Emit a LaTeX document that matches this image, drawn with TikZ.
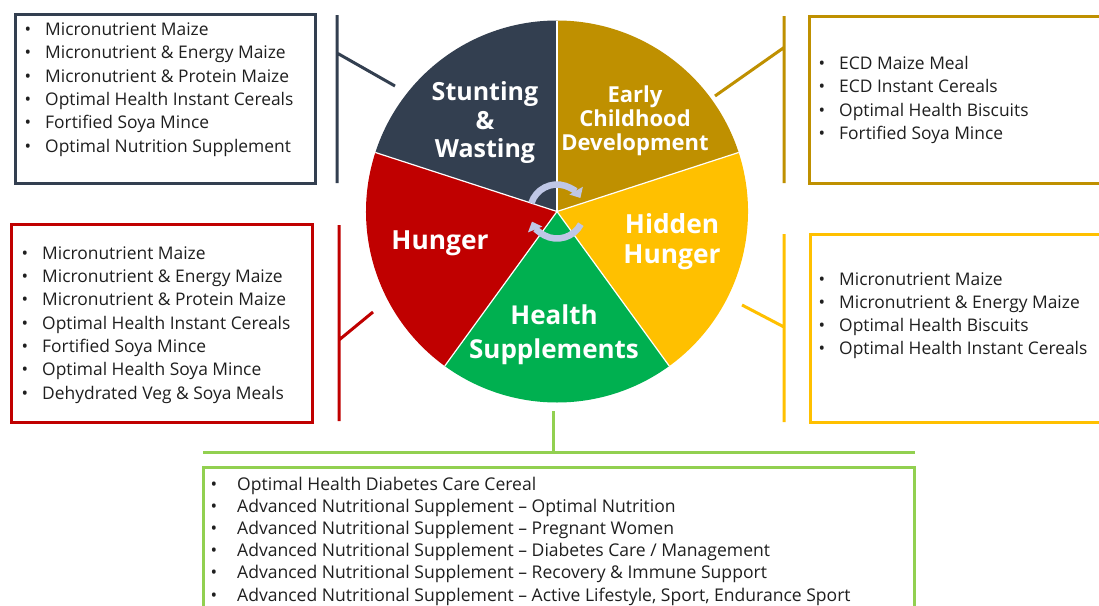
\documentclass[tikz,border=0pt]{standalone}
\usepackage{fontspec}
\setmainfont{Open Sans}
\usetikzlibrary{arrows.meta}
\definecolor{navy}{HTML}{333F50}
\definecolor{gold}{HTML}{BF9000}
\definecolor{amber}{HTML}{FFC000}
\definecolor{hgreen}{HTML}{00B050}
\definecolor{hred}{HTML}{C00000}
\definecolor{lgreen}{HTML}{92D050}
\definecolor{cyc}{HTML}{BFC7E6}
\begin{document}
\begin{tikzpicture}[x=1pt,y=-1pt,
  bx/.style={draw, line width=3pt, inner sep=0, fill=white},
  conn/.style={line width=3pt},
  item/.style={anchor=base west, inner sep=0, font=\fontsize{17.4}{20}\selectfont, text=black!88},
  lbl/.style={text=white, align=center, inner sep=0},
  sep/.style={white, line width=1.2pt}]
\useasboundingbox (0,0) rectangle (1099,605);
\clip (0,0) rectangle (1099,605);
\fill[white] (0,0) rectangle (1099,605);

% ---------- pie ----------
\begin{scope}[shift={(557,211.5)}, yscale=-1]
  \coordinate (pc) at (0,0);
  \fill[navy]   (pc) -- (90:191)  arc[start angle=90,  end angle=162, radius=191] -- cycle;
  \fill[hred]   (pc) -- (162:191) arc[start angle=162, end angle=234, radius=191] -- cycle;
  \fill[hgreen] (pc) -- (234:191) arc[start angle=234, end angle=306, radius=191] -- cycle;
  \fill[amber]  (pc) -- (306:191) arc[start angle=306, end angle=378, radius=191] -- cycle;
  \fill[gold]   (pc) -- (18:191)  arc[start angle=18,  end angle=90,  radius=191] -- cycle;
  \foreach \a in {90,162,234,306,18} \draw[sep] (pc) -- (\a:191);
  % cycle arrows
  \draw[cyc, line width=6.5pt, -{Triangle[width=15pt,length=8.5pt]}]
    (162:27) arc[start angle=162, end angle=30, radius=27];
  \draw[cyc, line width=6.5pt, -{Triangle[width=15pt,length=8.5pt]}]
    (-28:27) arc[start angle=-28, end angle=-158, radius=27];
\end{scope}

% ---------- pie labels ----------
\node[lbl, font=\bfseries\fontsize{25}{28.5}\selectfont] (lstunt) at (485,123) {Stunting\\\&\\Wasting};
\node[lbl, font=\bfseries\fontsize{22}{24}\selectfont] (lecd) at (635,121) {Early\\Childhood\\Development};
\node[lbl, font=\bfseries\fontsize{26.3}{30}\selectfont] (lhid) at (672,242) {Hidden\\Hunger};
\node[lbl, font=\bfseries\fontsize{26.3}{30}\selectfont] (lhun) at (440,243) {Hunger};
\node[lbl, font=\bfseries\fontsize{26}{34}\selectfont] (lhea) at (554,335) {Health\\Supplements};

% ---------- connector coordinates ----------
\coordinate (nvT) at (337,15);   \coordinate (nvB) at (337,183);
\coordinate (nvJ) at (337,53);   \coordinate (nvP) at (395,86);
\coordinate (gdT) at (784,16);   \coordinate (gdB) at (784,183);
\coordinate (gdJ) at (784,47.5); \coordinate (gdP) at (715,96);
\coordinate (rdT) at (339,225);  \coordinate (rdB) at (339,421);
\coordinate (rdJ) at (339,340);  \coordinate (rdP) at (373,312);
\coordinate (ylT) at (784,234);  \coordinate (ylB) at (784,422);
\coordinate (ylJ) at (784,327);  \coordinate (ylP) at (742,305);
\coordinate (grP) at (553,411);  \coordinate (grJ) at (553,452);
\coordinate (grL) at (203,452);  \coordinate (grR) at (915,452);

\draw[conn, navy] (nvT) -- (nvB) (nvJ) -- (nvP);
\draw[conn, gold] (gdT) -- (gdB) (gdJ) -- (gdP);
\draw[conn, hred] (rdT) -- (rdB) (rdJ) -- (rdP);
\draw[conn, amber] (ylT) -- (ylB) (ylJ) -- (ylP);
\draw[conn, lgreen] (grP) -- (grJ) (grL) -- (grR);

% ---------- boxes ----------
\node[bx, draw=navy, minimum width=300pt, minimum height=169pt] (bnavy) at (165,98.5) {};
\node[bx, draw=gold, minimum width=301pt, minimum height=167pt] (bgold) at (959.5,99.5) {};
\node[bx, draw=hred, minimum width=301pt, minimum height=198pt] (bred) at (161.5,323) {};
\node[bx, draw=amber, minimum width=300pt, minimum height=188pt] (bamber) at (960,328) {};
\node[bx, draw=lgreen, minimum width=711pt, minimum height=153pt] (bgreen) at (558.5,543.5) {};

% ---------- lists ----------
\foreach \t [count=\i] in {Micronutrient Maize, Micronutrient \& Energy Maize, Micronutrient \& Protein Maize, Optimal Health Instant Cereals, Fortified Soya Mince, Optimal Nutrition Supplement}
  \node[item] (nv\i) at (24.5,{35.5+23.3*(\i-1)}) {\makebox[20.5pt][l]{\textbullet}\t};

\foreach \t [count=\i] in {ECD Maize Meal, ECD Instant Cereals, Optimal Health Biscuits, Fortified Soya Mince}
  \node[item] (gd\i) at (818.5,{69.3+23.5*(\i-1)}) {\makebox[20.5pt][l]{\textbullet}\t};

\foreach \t [count=\i] in {Micronutrient Maize, Micronutrient \& Energy Maize, Micronutrient \& Protein Maize, Optimal Health Instant Cereals, Fortified Soya Mince, Optimal Health Soya Mince, Dehydrated Veg \& Soya Meals}
  \node[item] (rd\i) at (21.5,{259.3+23.33*(\i-1)}) {\makebox[20.5pt][l]{\textbullet}\t};

\foreach \t [count=\i] in {Micronutrient Maize, Micronutrient \& Energy Maize, Optimal Health Biscuits, Optimal Health Instant Cereals}
  \node[item] (yl\i) at (818.5,{285+23.3*(\i-1)}) {\makebox[20.5pt][l]{\textbullet}\t};

\foreach \t [count=\i] in {Optimal Health Diabetes Care Cereal, Advanced Nutritional Supplement – Optimal Nutrition, Advanced Nutritional Supplement – Pregnant Women, Advanced Nutritional Supplement – Diabetes Care / Management, Advanced Nutritional Supplement – Recovery \& Immune Support, {Advanced Nutritional Supplement – Active Lifestyle, Sport, Endurance Sport}}
  \node[item, font=\fontsize{17.55}{20}\selectfont] (gr\i) at (210.5,{490+22.2*(\i-1)}) {\makebox[26.5pt][l]{\textbullet}\t};
\end{tikzpicture}
\end{document}
